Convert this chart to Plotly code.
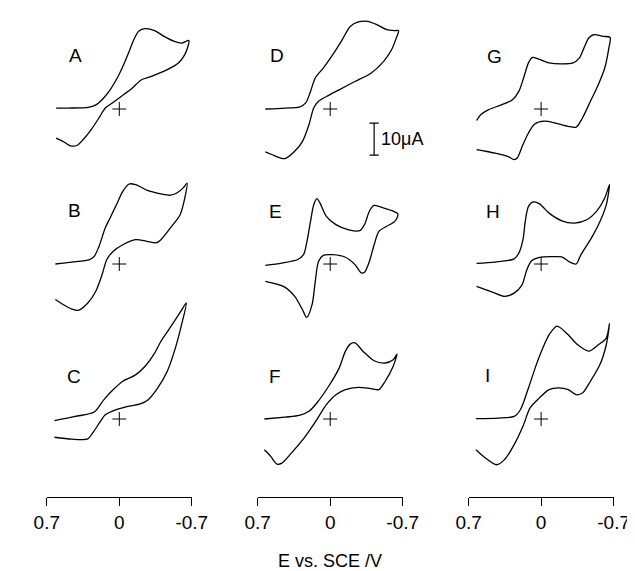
import plotly.graph_objects as go

# ---------------- data (E in V vs SCE, I in microampere) ----------------
A_E = [0.61, 0.49, 0.30, 0.23, 0.166, 0.089, 0.028, -0.034, -0.095, -0.141, -0.187, -0.249, -0.341, -0.433, -0.525, -0.60, -0.672,
       -0.663, -0.632, -0.571, -0.463, -0.31, -0.218, -0.126, -0.034, 0.058, 0.135, 0.196, 0.273, 0.35, 0.41, 0.472, 0.534, 0.61]
A_I = [0.3, 0.3, 0.5, 1.2, 2.9, 6.0, 9.2, 13.3, 18.0, 21.7, 24.3, 25.1, 24.5, 22.7, 21.2, 20.6, 21.4,
       19.6, 17.0, 14.4, 12.3, 10.2, 9.2, 6.6, 4.3, 2.1, 0.3, -2.8, -6.5, -9.6, -11.4, -11.5, -10.3, -9.1]

B_E = [0.617, 0.457, 0.288, 0.242, 0.196, 0.135, 0.089, 0.028, -0.034, -0.095, -0.157, -0.279, -0.402, -0.494, -0.555, -0.617, -0.654,
       -0.632, -0.587, -0.494, -0.402, -0.356, -0.264, -0.157, -0.034, 0.058, 0.12, 0.166, 0.227, 0.304, 0.396, 0.457, 0.55, 0.617]
B_I = [0.0, 0.6, 1.4, 2.4, 5.5, 11.3, 14.4, 18.5, 22.7, 25.0, 24.8, 22.9, 21.9, 21.5, 22.2, 23.8, 25.3,
       20.6, 15.4, 11.3, 7.6, 6.6, 7.1, 7.6, 6.0, 4.0, 1.4, -3.3, -8.5, -12.2, -14.5, -14.1, -12.5, -11.1]

C_E = [0.626, 0.426, 0.242, 0.15, 0.058, -0.034, -0.157, -0.249, -0.341, -0.402, -0.479, -0.587, -0.647,
       -0.601, -0.546, -0.463, -0.371, -0.279, -0.203, -0.095, 0.028, 0.135, 0.181, 0.258, 0.304, 0.458, 0.626]
C_I = [-0.5, 0.8, 2.2, 6.0, 9.2, 11.8, 13.8, 16.5, 20.6, 24.3, 28.0, 33.3, 36.3,
       29.5, 22.7, 14.9, 9.7, 6.0, 4.7, 4.0, 2.9, 1.3, -0.7, -4.4, -6.2, -6.3, -5.7]

D_E = [0.626, 0.436, 0.298, 0.236, 0.19, 0.144, 0.067, -0.025, -0.117, -0.193, -0.27, -0.362, -0.454, -0.546, -0.623, -0.66,
       -0.638, -0.592, -0.516, -0.393, -0.239, -0.086, 0.037, 0.113, 0.159, 0.205, 0.267, 0.343, 0.436, 0.482, 0.559, 0.626]
D_I = [0.0, 0.3, 0.6, 1.9, 5.5, 9.7, 12.8, 17.0, 21.7, 25.8, 27.2, 27.4, 26.3, 24.8, 24.5, 24.5,
       22.2, 18.5, 14.9, 11.2, 8.6, 6.0, 3.9, 2.4, 0.3, -4.9, -10.1, -13.2, -15.5, -15.3, -14.3, -13.4]

E_E = [0.626, 0.467, 0.313, 0.258, 0.227, 0.19, 0.159, 0.129, 0.099, 0.037, -0.055, -0.178, -0.285, -0.331, -0.378, -0.424, -0.516, -0.608, -0.654,
       -0.623, -0.546, -0.47, -0.424, -0.378, -0.331, -0.301, -0.239, -0.147, -0.025, 0.067, 0.113, 0.144, 0.175, 0.227, 0.267, 0.343, 0.451, 0.626]
E_I = [-0.4, 0.3, 1.4, 2.9, 6.6, 13.3, 18.5, 20.4, 19.1, 14.9, 12.3, 10.7, 10.4, 12.3, 16.5, 18.3, 17.5, 16.5, 15.6,
       13.3, 11.8, 10.2, 6.0, 0.8, -2.6, -2.8, -0.2, 2.1, 2.9, 2.7, 0.8, -5.4, -12.7, -16.7, -14.3, -10.1, -7.0, -5.4]

F_E = [0.635, 0.436, 0.298, 0.205, 0.129, 0.006, -0.086, -0.147, -0.193, -0.239, -0.316, -0.424, -0.531, -0.608, -0.645,
       -0.608, -0.531, -0.47, -0.393, -0.27, -0.147, -0.055, 0.037, 0.129, 0.251, 0.39, 0.467, 0.513, 0.574, 0.635]
F_I = [0.0, 0.6, 1.1, 2.4, 5.0, 10.7, 15.9, 21.2, 23.4, 23.8, 21.2, 18.2, 17.5, 18.5, 20.3,
       16.5, 11.8, 9.2, 9.5, 9.9, 9.2, 7.6, 4.5, -0.2, -5.9, -11.2, -13.8, -14.1, -11.7, -9.6]

G_E = [0.623, 0.583, 0.506, 0.384, 0.276, 0.215, 0.169, 0.122, 0.083, 0.030, -0.077, -0.2, -0.307, -0.368, -0.414, -0.46, -0.506, -0.599, -0.666,
       -0.654, -0.614, -0.552, -0.476, -0.399, -0.338, -0.261, -0.138, -0.031, 0.062, 0.122, 0.175, 0.23, 0.26, 0.322, 0.445, 0.537, 0.623]
G_I = [-3.6, -1.8, -0.2, 1.3, 2.9, 5.5, 9.7, 14.4, 16.1, 15.7, 14.4, 14.1, 14.4, 15.9, 19.1, 22.2, 23.2, 22.7, 22.4,
       19.1, 12.8, 7.6, 2.4, -2.8, -5.7, -5.4, -4.4, -3.8, -4.7, -7.5, -11.1, -15.3, -15.8, -14.8, -13.8, -13.2, -12.7]

H_E = [0.623, 0.445, 0.26, 0.215, 0.175, 0.153, 0.122, 0.076, 0.015, -0.077, -0.2, -0.322, -0.445, -0.537, -0.614, -0.66,
       -0.629, -0.568, -0.476, -0.384, -0.338, -0.276, -0.2, -0.108, 0.015, 0.092, 0.138, 0.184, 0.26, 0.353, 0.445, 0.623]
H_I = [0.2, 0.6, 1.6, 3.4, 7.6, 13.3, 18.0, 19.4, 18.8, 15.9, 13.5, 12.8, 13.9, 16.5, 20.6, 24.8,
       18.5, 13.3, 7.6, 2.9, 0.0, 0.6, 2.2, 2.3, 2.1, 1.0, -1.8, -6.5, -9.1, -10.1, -9.1, -7.0]

I_E = [0.629, 0.414, 0.26, 0.2, 0.122, 0.046, -0.03, -0.077, -0.154, -0.261, -0.353, -0.46, -0.552, -0.629, -0.66,
       -0.629, -0.568, -0.476, -0.399, -0.338, -0.261, -0.169, -0.077, 0.016, 0.108, 0.169, 0.26, 0.353, 0.43, 0.537, 0.629]
I_I = [0.1, 0.3, 0.8, 2.9, 9.7, 17.0, 23.2, 26.3, 29.0, 26.3, 23.2, 21.2, 23.2, 25.3, 29.8,
       23.2, 17.0, 11.8, 8.1, 7.6, 9.2, 9.7, 9.2, 6.6, 3.4, -1.8, -8.0, -12.7, -14.3, -12.2, -9.6]

PANEL_LABELS = ["A", "B", "C", "D", "E", "F", "G", "H", "I"]
TICK_VALUES = [0.7, 0, -0.7]
TICK_LABELS = ["0.7", "0", "-0.7"]
SCALE_BAR_UA = 10
X_TITLE = "E vs. SCE /V"

# ---------------- layout helpers (pixels) ----------------
W, H = 635, 571
FONT = "Liberation Sans, Arial, sans-serif"
col_px = [(27, 179), (248, 400), (469, 621)]     # pixel span of 0.7 .. -0.7
row_zero_px = [101, 256, 411]                    # pixel row of zero current
axis_px = 489                                    # x-axis line pixel row
px_per_ua = 3.2

curves = {"A": (A_E, A_I), "B": (B_E, B_I), "C": (C_E, C_I),
          "D": (D_E, D_I), "E": (E_E, E_I), "F": (F_E, F_I),
          "G": (G_E, G_I), "H": (H_E, H_I), "I": (I_E, I_I)}
label_px = {"A": (57, 47), "B": (56, 202), "C": (56, 368),
            "D": (268, 47), "E": (267, 203), "F": (266, 368),
            "G": (496, 48), "H": (495, 203), "I": (489, 367)}

fig = go.Figure()
layout = dict(width=W, height=H, margin=dict(l=0, r=0, t=0, b=0),
              paper_bgcolor="white", plot_bgcolor="rgba(0,0,0,0)",
              showlegend=False, font=dict(family=FONT, color="black"))

ydom = [1 - axis_px / H, 1.0]
annotations = []
for c in range(3):
    xname = "xaxis" if c == 0 else f"xaxis{c+1}"
    xref = "x" if c == 0 else f"x{c+1}"
    main_y = 3 * c + 1
    main_yref = "y" if main_y == 1 else f"y{main_y}"
    layout[xname] = dict(domain=[col_px[c][0] / W, col_px[c][1] / W], range=[0.7, -0.7],
                         anchor=main_yref, showgrid=False, zeroline=False,
                         showline=True, linecolor="black", linewidth=1,
                         ticks="outside", ticklen=8, tickcolor="black", tickwidth=1,
                         tickvals=TICK_VALUES, ticktext=TICK_LABELS,
                         tickfont=dict(size=19, family=FONT, color="black"))
    for r in range(3):
        k = 3 * c + r + 1
        yname = "yaxis" if k == 1 else f"yaxis{k}"
        yref = "y" if k == 1 else f"y{k}"
        z = row_zero_px[r]
        ycfg = dict(domain=ydom, range=[(z - axis_px) / px_per_ua, z / px_per_ua],
                    anchor=xref, visible=False, showgrid=False, zeroline=False)
        if r > 0:
            ycfg["overlaying"] = main_yref
        layout[yname] = ycfg
        lab = PANEL_LABELS[k - 1]
        e, i = curves[lab]
        fig.add_trace(go.Scatter(x=e, y=i, xaxis=xref, yaxis=yref, mode="lines",
                                 line=dict(color="black", width=1.3, shape="spline", smoothing=0.8),
                                 hoverinfo="skip"))
        fig.add_trace(go.Scatter(x=[0], y=[0], xaxis=xref, yaxis=yref, mode="markers",
                                 marker=dict(symbol="cross-thin", size=10,
                                             line=dict(color="black", width=1)),
                                 hoverinfo="skip"))
        lx, ly = label_px[lab]
        annotations.append(dict(text=lab, x=lx / W, y=1 - ly / H, xref="paper", yref="paper",
                                showarrow=False, xanchor="center", yanchor="middle",
                                font=dict(size=19, family=FONT, color="black")))

annotations.append(dict(text=X_TITLE, x=324 / W, y=1 - 553 / H, xref="paper", yref="paper",
                        showarrow=False, xanchor="center", yanchor="middle", borderpad=0,
                        font=dict(size=18, family=FONT, color="black")))

# scale bar in panel D coordinates
bar_x = -0.424
bar_top = -4.4
bar_bot = bar_top - SCALE_BAR_UA
cap = 0.045
shapes = [
    dict(type="line", xref="x2", yref="y4", x0=bar_x, x1=bar_x, y0=bar_top, y1=bar_bot,
         line=dict(color="black", width=1.2)),
    dict(type="line", xref="x2", yref="y4", x0=bar_x - cap, x1=bar_x + cap, y0=bar_top, y1=bar_top,
         line=dict(color="black", width=1.2)),
    dict(type="line", xref="x2", yref="y4", x0=bar_x - cap, x1=bar_x + cap, y0=bar_bot, y1=bar_bot,
         line=dict(color="black", width=1.2)),
]
annotations.append(dict(text=f"{SCALE_BAR_UA}\u03bcA", x=bar_x - 0.05, y=(bar_top + bar_bot) / 2,
                        xref="x2", yref="y4", showarrow=False, xanchor="left", yanchor="middle",
                        font=dict(size=18, family=FONT, color="black")))

layout["annotations"] = annotations
layout["shapes"] = shapes
fig.update_layout(**layout)
fig.write_html("out.html")
